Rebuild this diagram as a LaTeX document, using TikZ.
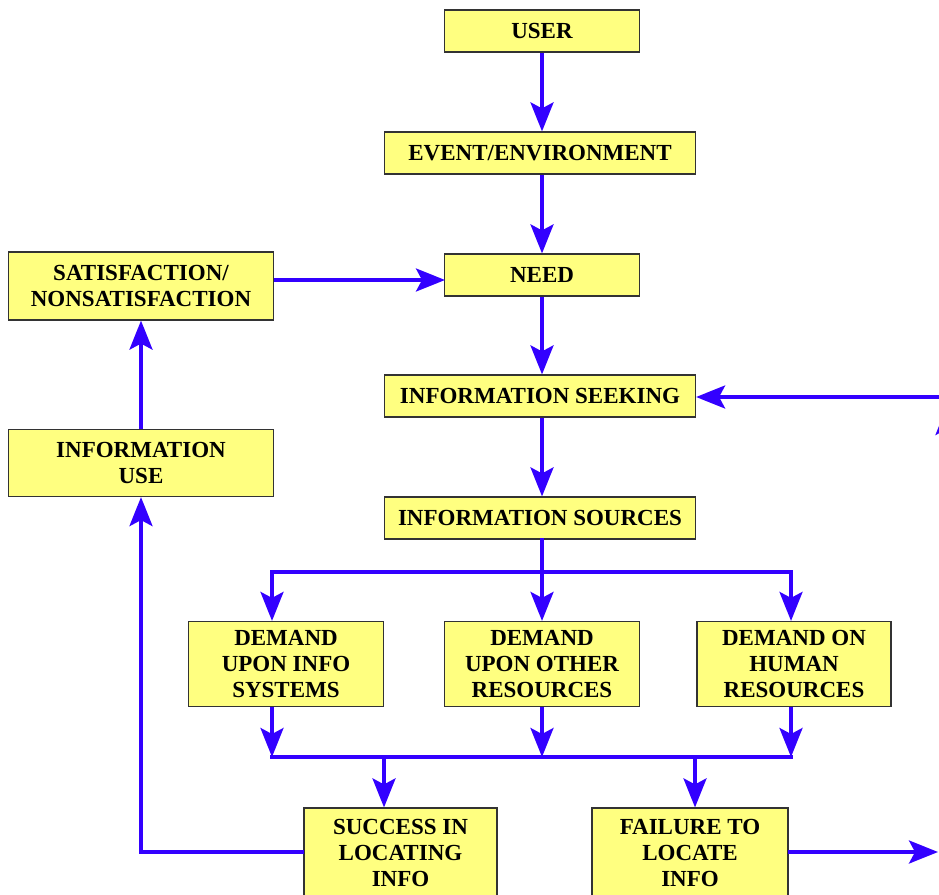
\documentclass[tikz,border=0pt]{standalone}
\usepackage{fontspec}
\setmainfont{Liberation Serif}
\usetikzlibrary{arrows.meta}
\definecolor{boxfill}{HTML}{FFFF80}
\definecolor{arrowblue}{HTML}{3300FF}
\definecolor{boxline}{HTML}{333333}
\begin{document}
\begin{tikzpicture}[x=1pt,y=-1pt,
 box/.style={draw=boxline, line width=1.2pt, fill=boxfill, inner sep=0pt, align=center,
   font=\bfseries\fontsize{23}{26}\selectfont},
 flow/.style={draw=arrowblue, line width=3.5pt, -{Stealth[length=29pt,width=23pt,inset=6pt]}},
 link/.style={draw=arrowblue, line width=3.5pt, line cap=rect}]
\useasboundingbox (0,0) rectangle (939,894);
\fill[white] (0,0) rectangle (939,894);
\node[box, minimum width=195pt, minimum height=42pt] (user) at (542,31) {USER};
\node[box, minimum width=311pt, minimum height=42pt] (event) at (540,153) {EVENT/ENVIRONMENT};
\node[box, minimum width=195pt, minimum height=42pt] (need) at (542,275) {NEED};
\node[box, minimum width=311pt, minimum height=42pt] (seek) at (540,396) {INFORMATION SEEKING};
\node[box, minimum width=311pt, minimum height=42pt] (src) at (540,518) {INFORMATION SOURCES};
\node[box, minimum width=265pt, minimum height=68pt] (sat) at (141,286) {SATISFACTION/\\NONSATISFACTION};
\node[box, minimum width=265pt, minimum height=67pt] (use) at (141,463) {INFORMATION\\USE};
\node[box, minimum width=195pt, minimum height=85pt] (d1) at (286,664) {DEMAND\\UPON INFO\\SYSTEMS};
\node[box, minimum width=195pt, minimum height=85pt] (d2) at (542,664) {DEMAND\\UPON OTHER\\RESOURCES};
\node[box, minimum width=194pt, minimum height=85pt] (d3) at (794,664) {DEMAND ON\\HUMAN\\RESOURCES};
\node[box, minimum width=193pt, minimum height=90pt] (succ) at (400.5,853) {SUCCESS IN\\LOCATING\\INFO};
\node[box, minimum width=196pt, minimum height=90pt] (fail) at (690,853) {FAILURE TO\\LOCATE\\INFO};
% main column
\draw[flow] (user.south) -- (user.south |- event.north);
\draw[flow] (user.south |- event.south) -- (user.south |- need.north);
\draw[flow] (need.south) -- (need.south |- seek.north);
\draw[flow] (need.south |- seek.south) -- (need.south |- src.north);
% branch to demands
\coordinate (b1) at (542,572);
\coordinate (bl) at (272,572);
\coordinate (br) at (791,572);
\draw[link] (need.south |- src.south) -- (b1);
\draw[flow] (b1) -| (bl |- d1.north);
\draw[flow] (b1) -| (br |- d3.north);
\draw[flow] (b1) -- (b1 |- d2.north);
% merge
\coordinate (ml) at (272,757);
\coordinate (mr) at (791,757);
\coordinate (mm) at (542,757);
\draw[link] (ml) -- (mr);
\draw[flow] (ml |- d1.south) -- (ml);
\draw[flow] (mm |- d2.south) -- (mm);
\draw[flow] (mr |- d3.south) -- (mr);
\coordinate (ms) at (384,757);
\coordinate (mf) at (695,757);
\draw[flow] (ms) -- (ms |- succ.north);
\draw[flow] (mf) -- (mf |- fail.north);
% feedback left
\coordinate (sl) at (304,852);
\draw[flow] (sl) -| (use.south);
\draw[flow] (use.north) -- (sat.south);
\coordinate (se) at (274,280);
\coordinate (ne) at (445,280);
\draw[flow] (se) -- (ne);
% right side
\coordinate (fe) at (788,852);
\coordinate (fo) at (938,852);
\draw[flow] (fe) -- (fo);
\coordinate (ri) at (950,397);
\draw[flow] (ri) -- (seek.east |- ri);
\coordinate (up0) at (947,600);
\coordinate (up1) at (947,406);
\draw[flow] (up0) -- (up1);
\end{tikzpicture}
\end{document}
